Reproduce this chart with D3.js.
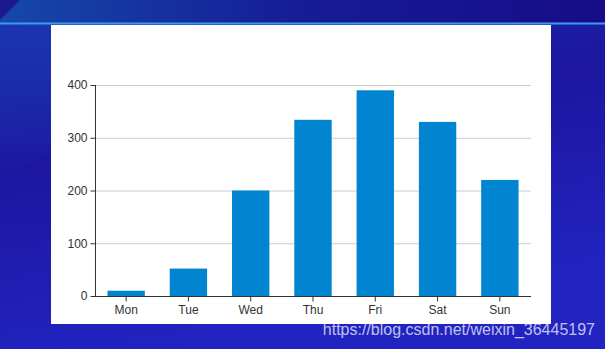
<!DOCTYPE html>
<html><head><meta charset="utf-8">
<script src="https://cdn.jsdelivr.net/npm/d3@7"></script>
<style>html,body{margin:0;padding:0;overflow:hidden;background:#1b22a8}</style>
</head><body>
<svg id="c" width="605" height="349"></svg>
<script>
const categories = ["Mon","Tue","Wed","Thu","Fri","Sat","Sun"];
const values = [10, 52, 200, 334, 390, 330, 220];
const yTicks = [0, 100, 200, 300, 400];

(function(){
const svg = d3.select("#c");
const defs = svg.append("defs");
const g1 = defs.append("linearGradient").attr("id","bg").attr("x1","0").attr("y1","0").attr("x2","0.3").attr("y2","1");
g1.append("stop").attr("offset","0").attr("stop-color","#1a2ea8");
g1.append("stop").attr("offset","0.45").attr("stop-color","#1c16a0");
g1.append("stop").attr("offset","1").attr("stop-color","#2224c2");
svg.append("rect").attr("width",605).attr("height",349).attr("fill","url(#bg)");
const g3 = defs.append("linearGradient").attr("id","lg").attr("x1","0").attr("y1","0").attr("x2","0").attr("y2","1");
g3.append("stop").attr("offset","0").attr("stop-color","#1a40b4").attr("stop-opacity",0.55);
g3.append("stop").attr("offset","1").attr("stop-color","#1a40b4").attr("stop-opacity",0);
svg.append("path").attr("d","M0,24H51V150L0,185Z").attr("fill","url(#lg)");
const g2 = defs.append("linearGradient").attr("id","topg").attr("x1","0").attr("y1","0").attr("x2","1").attr("y2","0");
g2.append("stop").attr("offset","0").attr("stop-color","#1548aa");
g2.append("stop").attr("offset","0.5").attr("stop-color","#161c96");
g2.append("stop").attr("offset","1").attr("stop-color","#170c88");
svg.append("rect").attr("width",605).attr("height",23).attr("fill","url(#topg)");
svg.append("path").attr("d","M0,0H20L0,20Z").attr("fill","#1a1a8e");
svg.append("rect").attr("y",22.5).attr("width",605).attr("height",2).attr("fill","#3a9bef");
svg.append("rect").attr("x",51).attr("y",25).attr("width",500).attr("height",299).attr("fill","#fff");

const pl = 95, pr = 531, pt = 85, pb = 296;
const xb = d3.scaleBand().domain(categories).range([pl, pr]);
const y = d3.scaleLinear().domain([0, 400]).range([pb, pt]);

svg.append("g").selectAll("line").data(yTicks.filter(d=>d>0)).join("line")
  .attr("x1", pl).attr("x2", pr).attr("y1", d=>y(d)+0.5).attr("y2", d=>y(d)+0.5)
  .attr("stroke", "#cccccc").attr("stroke-width", 1);

svg.append("g").selectAll("rect").data(values).join("rect")
  .attr("x", (d,i)=>xb(categories[i]) + xb.bandwidth()*0.2)
  .attr("width", xb.bandwidth()*0.6)
  .attr("y", d=>y(d)).attr("height", d=>pb - y(d))
  .attr("fill", "#0285d1");

const font = "Helvetica, 'Liberation Sans', Arial, sans-serif";
const ya = svg.append("g").attr("transform", `translate(${pl+0.5},0)`)
  .call(d3.axisLeft(y).tickValues(yTicks).tickSize(5).tickPadding(3));
ya.select(".domain").attr("stroke", "#333").attr("d", `M0,${pt}V${pb}`);
ya.selectAll(".tick line").attr("stroke", "#333");
ya.selectAll("text").attr("fill", "#333").style("font-family", font).style("font-size", "12px");

const xa = svg.append("g").attr("transform", `translate(0,${pb+0.5})`)
  .call(d3.axisBottom(xb).tickSize(5).tickPadding(4));
xa.select(".domain").attr("stroke", "#333").attr("d", `M${pl},0H${pr}`);
xa.selectAll(".tick line").attr("stroke", "#333");
xa.selectAll("text").attr("fill", "#333").style("font-family", font).style("font-size", "12px");

svg.append("text").attr("x", 595).attr("y", 335).attr("text-anchor", "end")
  .attr("fill", "rgba(255,255,255,0.72)").style("font-family", font).style("font-size", "16px")
  .text("https://blog.csdn.net/weixin_36445197");
})();
</script>
</body></html>
